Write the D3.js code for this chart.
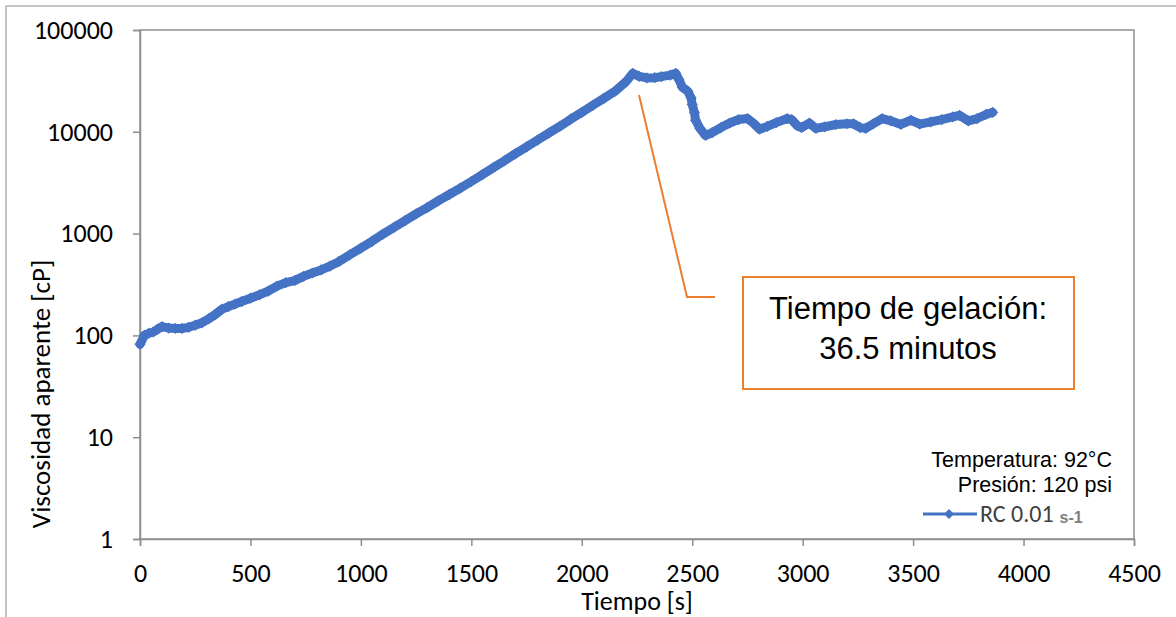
<!DOCTYPE html>
<html>
<head>
<meta charset="utf-8">
<script src="https://cdn.jsdelivr.net/npm/d3@7"></script>
<style>
  html, body { margin: 0; padding: 0; background: #ffffff; }
  svg { display: block; }
</style>
</head>
<body>
<svg id="chart" width="1176" height="617"></svg>
<script>
// Time [s] of each reading
const timeSeconds = [
  0, 20, 40, 60, 80, 100, 130, 160, 190, 220, 250, 280, 310, 340, 370, 400, 430, 460,
  500, 540, 580, 620, 660, 700, 740, 780, 820, 860, 900, 950, 1000, 1050, 1100, 1150,
  1200, 1250, 1300, 1350, 1400, 1450, 1500, 1550, 1600, 1650, 1700, 1750, 1800, 1850,
  1900, 1950, 2000, 2050, 2100, 2150, 2200, 2231, 2260, 2294, 2330, 2360, 2400, 2425,
  2440, 2455, 2480, 2495, 2500, 2510, 2515, 2535, 2560, 2590, 2630, 2670, 2710, 2750,
  2780, 2805, 2840, 2880, 2930, 2950, 2975, 2995, 3030, 3060, 3100, 3150, 3200, 3230,
  3260, 3285, 3320, 3360, 3400, 3445, 3490, 3530, 3580, 3630, 3680, 3710, 3750, 3790,
  3830, 3860
];

// Apparent viscosity [cP] at each reading
const viscosity = [
  82, 100, 105, 108, 115, 122, 118, 117, 117, 120, 126, 133, 145, 160, 180, 192, 203, 215,
  232, 250, 272, 305, 330, 345, 380, 410, 440, 480, 530, 620, 720, 840, 990, 1150,
  1340, 1560, 1800, 2100, 2420, 2800, 3250, 3800, 4450, 5200, 6100, 7100, 8300, 9700,
  11300, 13300, 15500, 18200, 21300, 25000, 31000, 37500, 35000, 33800, 34000, 34800, 36000, 37500,
  32500, 27500, 25000, 21500, 18500, 15500, 13000, 10800, 9200, 9800, 11000, 12200, 13200, 13500,
  12000, 10600, 11300, 12300, 13500, 13200, 11500, 11000, 12200, 10800, 11200, 11800, 12000, 12000,
  11000, 10800, 12000, 13500, 12800, 11800, 13000, 11900, 12500, 13200, 14000, 14500, 12800, 13500,
  14800, 15500
];

const xTicks = [0, 500, 1000, 1500, 2000, 2500, 3000, 3500, 4000, 4500];
const yTicks = [1, 10, 100, 1000, 10000, 100000];

const seriesName = "RC 0.01";
const seriesUnit = "s-1";
const conditionLines = ["Temperatura: 92°C", "Presión: 120 psi"];
const calloutLines = ["Tiempo de gelación:", "36.5 minutos"];
const xTitle = "Tiempo [s]";
const yTitle = "Viscosidad aparente [cP]";

const points = timeSeconds.map((t, i) => ({ t, v: viscosity[i] }));

const svg = d3.select("#chart");
const W = 1176, H = 617;
const plot = { left: 140, top: 30, right: 1134, bottom: 539 };

const gridGrey = "#8e8e8e";
const seriesBlue = "#4472c4";
const accentOrange = "#ed7d31";
const numberFont = "Carlito, Calibri, Lato, sans-serif";
const arialFont = "'Liberation Sans', Arial, sans-serif";

svg.append("rect").attr("width", W).attr("height", H).attr("fill", "#fff");

// Outer chart frame (runs off the right and bottom edges)
svg.append("rect")
  .attr("x", 6).attr("y", 6).attr("width", W + 20).attr("height", H + 20)
  .attr("fill", "none").attr("stroke", "#b3b3b3").attr("stroke-width", 1.5);

const x = d3.scaleLinear().domain([0, 4500]).range([plot.left, plot.right]);
const y = d3.scaleLog().domain([1, 100000]).range([plot.bottom, plot.top]);

// Plot-area border
svg.append("rect")
  .attr("x", plot.left).attr("y", plot.top)
  .attr("width", plot.right - plot.left).attr("height", plot.bottom - plot.top)
  .attr("fill", "none").attr("stroke", gridGrey).attr("stroke-width", 1.5);

// Axes
const xAxis = svg.append("g")
  .attr("transform", `translate(0,${plot.bottom})`)
  .call(d3.axisBottom(x).tickValues(xTicks).tickSize(7).tickPadding(18).tickFormat(d3.format("d")));
const yAxis = svg.append("g")
  .attr("transform", `translate(${plot.left},0)`)
  .call(d3.axisLeft(y).tickValues(yTicks).tickSize(7).tickPadding(20).tickFormat(d3.format("d")));

[xAxis, yAxis].forEach(g => {
  g.select(".domain").attr("stroke", gridGrey).attr("stroke-width", 1.5);
  g.selectAll(".tick line").attr("stroke", gridGrey).attr("stroke-width", 1.5);
  g.selectAll(".tick text")
    .attr("fill", "#000").attr("font-family", numberFont).attr("font-size", 26);
});

// Axis titles
svg.append("text")
  .attr("x", 637).attr("y", 610)
  .attr("text-anchor", "middle")
  .attr("font-family", numberFont).attr("font-size", 26).attr("fill", "#000")
  .text(xTitle);
svg.append("text")
  .attr("transform", "translate(50,394) rotate(-90)")
  .attr("text-anchor", "middle")
  .attr("font-family", numberFont).attr("font-size", 27).attr("fill", "#000")
  .text(yTitle);

// Series: thick line with diamond markers
const line = d3.line().x(d => x(d.t)).y(d => y(d.v));
svg.append("path")
  .datum(points)
  .attr("d", line)
  .attr("fill", "none")
  .attr("stroke", seriesBlue)
  .attr("stroke-width", 9)
  .attr("stroke-linejoin", "round")
  .attr("stroke-linecap", "round");

const diamond = d3.symbol().type(d3.symbolDiamond2).size(80);
svg.append("g").selectAll("path")
  .data(points)
  .join("path")
  .attr("d", diamond)
  .attr("transform", d => `translate(${x(d.t)},${y(d.v)})`)
  .attr("fill", seriesBlue);

// Callout with leader line
svg.append("polyline")
  .attr("points", "639,95 687,297 715,297")
  .attr("fill", "none").attr("stroke", accentOrange).attr("stroke-width", 2);
svg.append("rect")
  .attr("x", 743).attr("y", 277).attr("width", 331).attr("height", 112)
  .attr("fill", "#fff").attr("stroke", accentOrange).attr("stroke-width", 2);
svg.append("g").selectAll("text")
  .data(calloutLines)
  .join("text")
  .attr("x", 908).attr("y", (d, i) => 319 + i * 40)
  .attr("text-anchor", "middle")
  .attr("font-family", arialFont).attr("font-size", 31).attr("fill", "#000")
  .text(d => d);

// Test conditions and legend
svg.append("g").selectAll("text")
  .data(conditionLines)
  .join("text")
  .attr("x", 1112).attr("y", (d, i) => 467 + i * 25)
  .attr("text-anchor", "end")
  .attr("font-family", arialFont).attr("font-size", 21.5).attr("fill", "#000")
  .text(d => d);

const legend = svg.append("g");
legend.append("line")
  .attr("x1", 923).attr("x2", 977).attr("y1", 514).attr("y2", 514)
  .attr("stroke", seriesBlue).attr("stroke-width", 3);
legend.append("path")
  .attr("d", d3.symbol().type(d3.symbolDiamond2).size(64))
  .attr("transform", "translate(949,514)")
  .attr("fill", seriesBlue);
const legendText = legend.append("text")
  .attr("x", 980).attr("y", 522)
  .attr("font-family", numberFont).attr("font-size", 24).attr("fill", "#404040");
legendText.append("tspan").text(seriesName);
legendText.append("tspan")
  .attr("dx", 6).attr("dy", 1)
  .attr("font-size", 16).attr("font-weight", "bold").attr("fill", "#808080")
  .attr("font-family", arialFont)
  .text(seriesUnit);
</script>
</body>
</html>
